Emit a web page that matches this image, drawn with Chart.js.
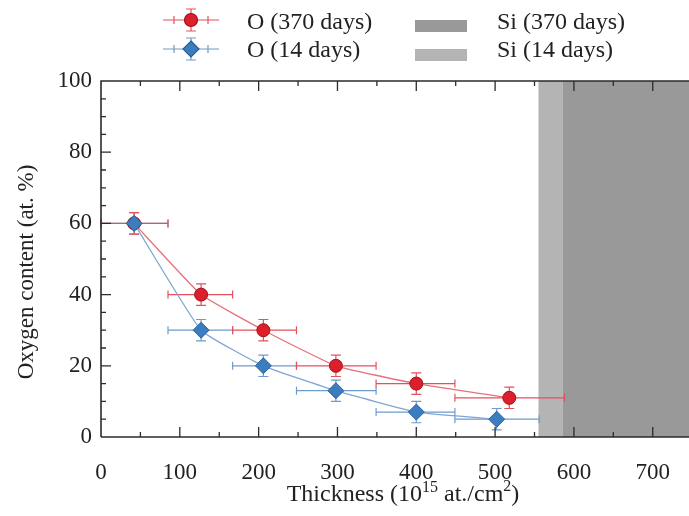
<!DOCTYPE html>
<html>
<head>
<meta charset="utf-8">
<script src="https://cdn.jsdelivr.net/npm/chart.js@4.4.1/dist/chart.umd.min.js"></script>
<style>
  html, body { margin: 0; padding: 0; background: #fff; }
  #wrap { width: 689px; height: 516px; }
</style>
</head>
<body>
<div id="wrap"><canvas id="oxChart"></canvas></div>
<script>
// O content vs thickness after 14 and 370 days
var o370X = [42, 127, 206, 298, 400, 518];
var o370Y = [60, 40, 30, 20, 15, 11];
var o370XMin = [0, 85, 167, 248, 349, 449];
var o370XMax = [85, 167, 248, 349, 449, 588];
var o370YErr = [3, 3, 3, 3, 3, 3];

var o14X = [42, 127, 206, 298, 400, 502];
var o14Y = [60, 30, 20, 13, 7, 5];
var o14XMin = [0, 85, 167, 248, 349, 449];
var o14XMax = [85, 167, 248, 349, 449, 556];
var o14YErr = [3, 3, 3, 3, 3, 3];

// where the Si substrate begins
var si14Start = 555;
var si370Start = 586;

var xTicks = [0, 100, 200, 300, 400, 500, 600, 700];
var yTicks = [0, 20, 40, 60, 80, 100];

var SERIF = '"Liberation Serif", "Times New Roman", serif';
var RED = '#dd1f2b', RED_LINE = '#e8707a', RED_BAR = '#e2525e';
var BLUE = '#3b7dbf', BLUE_LINE = '#7ea7d3', BLUE_BAR = '#6e9bcc';
var SI_DARK = '#999999', SI_LIGHT = '#b4b4b4';

function toPoints(xs, ys) {
  return xs.map(function (x, i) { return { x: x, y: ys[i] }; });
}

var errSets = [
  { xMin: o14XMin, xMax: o14XMax, yErr: o14YErr, color: BLUE_BAR },
  { xMin: o370XMin, xMax: o370XMax, yErr: o370YErr, color: RED_BAR }
];

var bandsPlugin = {
  id: 'siBands',
  beforeDatasetsDraw: function (chart) {
    var ctx = chart.ctx, a = chart.chartArea, xs = chart.scales.x;
    var x1 = xs.getPixelForValue(si14Start), x2 = xs.getPixelForValue(si370Start);
    ctx.save();
    ctx.fillStyle = SI_LIGHT;
    ctx.fillRect(x1, a.top, x2 - x1, a.bottom - a.top);
    ctx.fillStyle = SI_DARK;
    ctx.fillRect(x2, a.top, a.right - x2, a.bottom - a.top);
    ctx.restore();
  }
};

var errorBarPlugin = {
  id: 'errorBars',
  beforeDatasetsDraw: function (chart) {
    var ctx = chart.ctx, xs = chart.scales.x, ys = chart.scales.y;
    ctx.save();
    ctx.lineWidth = 1.2;
    chart.data.datasets.forEach(function (ds, di) {
      var e = errSets[di];
      ctx.strokeStyle = e.color;
      ds.data.forEach(function (p, i) {
        var px = xs.getPixelForValue(p.x), py = ys.getPixelForValue(p.y);
        var l = xs.getPixelForValue(e.xMin[i]), r = xs.getPixelForValue(e.xMax[i]);
        var t = ys.getPixelForValue(p.y + e.yErr[i]), b = ys.getPixelForValue(p.y - e.yErr[i]);
        ctx.beginPath();
        ctx.moveTo(l, py); ctx.lineTo(r, py);
        ctx.moveTo(l, py - 4); ctx.lineTo(l, py + 4);
        ctx.moveTo(r, py - 4); ctx.lineTo(r, py + 4);
        ctx.moveTo(px, t); ctx.lineTo(px, b);
        ctx.moveTo(px - 5, t); ctx.lineTo(px + 5, t);
        ctx.moveTo(px - 5, b); ctx.lineTo(px + 5, b);
        ctx.stroke();
      });
    });
    ctx.restore();
  }
};

var framePlugin = {
  id: 'frame',
  afterDraw: function (chart) {
    var ctx = chart.ctx, a = chart.chartArea, xs = chart.scales.x, ys = chart.scales.y;
    ctx.save();
    ctx.strokeStyle = '#2b2b2b';
    ctx.lineWidth = 1.6;
    ctx.beginPath();
    ctx.moveTo(a.left, a.bottom); ctx.lineTo(a.left, a.top); ctx.lineTo(a.right, a.top);
    ctx.moveTo(a.left, a.bottom); ctx.lineTo(a.right, a.bottom);
    ctx.stroke();
    // inward ticks, minor every 50 on x and every 5 on y
    ctx.lineWidth = 1.3;
    ctx.beginPath();
    for (var v = 50; v <= 750; v += 50) {
      var px = xs.getPixelForValue(v);
      if (px > a.right) break;
      var len = v % 100 === 0 ? 10 : 5;
      ctx.moveTo(px, a.bottom); ctx.lineTo(px, a.bottom - len);
      ctx.moveTo(px, a.top); ctx.lineTo(px, a.top + len);
    }
    for (var w = 5; w < 100; w += 5) {
      var py = ys.getPixelForValue(w);
      var ln = w % 20 === 0 ? 10 : 5;
      ctx.moveTo(a.left, py); ctx.lineTo(a.left + ln, py);
    }
    ctx.stroke();

    // axis titles
    ctx.fillStyle = '#222';
    ctx.textBaseline = 'alphabetic';
    var big = '24px ' + SERIF, small = '16px ' + SERIF;
    var parts = [['Thickness (10', big, 0], ['15', small, -9], [' at./cm', big, 0], ['2', small, -10], [')', big, 0]];
    var total = 0;
    parts.forEach(function (p) { ctx.font = p[1]; total += ctx.measureText(p[0]).width; });
    var cx = 403 - total / 2, base = 501;
    parts.forEach(function (p) {
      ctx.font = p[1];
      ctx.fillText(p[0], cx, base + p[2]);
      cx += ctx.measureText(p[0]).width;
    });
    ctx.save();
    ctx.translate(33, 272);
    ctx.rotate(-Math.PI / 2);
    ctx.font = '23px ' + SERIF;
    ctx.textAlign = 'center';
    ctx.fillText('Oxygen content (at. %)', 0, 0);
    ctx.restore();

    // legend
    function marker(x, y, color, bar, diamond) {
      ctx.strokeStyle = bar;
      ctx.lineWidth = 1.2;
      ctx.beginPath();
      ctx.moveTo(x - 28, y); ctx.lineTo(x + 28, y);
      ctx.moveTo(x - 17, y - 4); ctx.lineTo(x - 17, y + 4);
      ctx.moveTo(x + 17, y - 4); ctx.lineTo(x + 17, y + 4);
      ctx.moveTo(x, y - 11); ctx.lineTo(x, y + 11);
      ctx.moveTo(x - 5, y - 11); ctx.lineTo(x + 5, y - 11);
      ctx.moveTo(x - 5, y + 11); ctx.lineTo(x + 5, y + 11);
      ctx.stroke();
      ctx.fillStyle = color;
      ctx.strokeStyle = diamond ? '#2a5f96' : '#9e1219';
      ctx.beginPath();
      if (diamond) {
        ctx.moveTo(x, y - 8); ctx.lineTo(x + 8, y); ctx.lineTo(x, y + 8); ctx.lineTo(x - 8, y); ctx.closePath();
      } else {
        ctx.arc(x, y, 6.5, 0, Math.PI * 2);
      }
      ctx.fill(); ctx.stroke();
    }
    marker(191, 20, RED, RED_BAR, false);
    marker(191, 49, BLUE, BLUE_BAR, true);
    ctx.fillStyle = SI_DARK;
    ctx.fillRect(415, 20, 52, 12);
    ctx.fillStyle = SI_LIGHT;
    ctx.fillRect(415, 49, 52, 12);
    ctx.fillStyle = '#222';
    ctx.font = big;
    ctx.textBaseline = 'middle';
    ctx.fillText('O (370 days)', 247, 23);
    ctx.fillText('O (14 days)', 247, 51);
    ctx.fillText('Si (370 days)', 497, 23);
    ctx.fillText('Si (14 days)', 497, 51);
    ctx.restore();
  }
};

new Chart(document.getElementById('oxChart'), {
  type: 'line',
  data: {
    datasets: [
      {
        label: 'O (14 days)',
        data: toPoints(o14X, o14Y),
        borderColor: BLUE_LINE,
        borderWidth: 1.3,
        backgroundColor: BLUE,
        pointStyle: 'rectRot',
        pointRadius: 8,
        pointBorderColor: '#2a5f96',
        pointBorderWidth: 1,
        tension: 0.12
      },
      {
        label: 'O (370 days)',
        data: toPoints(o370X, o370Y),
        borderColor: RED_LINE,
        borderWidth: 1.3,
        backgroundColor: RED,
        pointStyle: 'circle',
        pointRadius: 6.5,
        pointBorderColor: '#9e1219',
        pointBorderWidth: 1,
        tension: 0.12
      }
    ]
  },
  options: {
    responsive: true,
    maintainAspectRatio: false,
    animation: false,
    layout: { autoPadding: false, padding: { top: 81, left: 0, right: 0, bottom: 0 } },
    plugins: { legend: { display: false }, tooltip: { enabled: false } },
    scales: {
      x: {
        type: 'linear',
        min: 0,
        max: 746,
        afterBuildTicks: function (s) { s.ticks = xTicks.map(function (v) { return { value: v }; }); },
        afterFit: function (s) { s.height = 79; s.paddingLeft = 0; s.paddingRight = 0; },
        grid: { display: false, drawTicks: false },
        border: { display: false },
        ticks: { color: '#222', font: { family: SERIF, size: 23 }, padding: 22, maxRotation: 0 }
      },
      y: {
        min: 0,
        max: 100,
        afterBuildTicks: function (s) { s.ticks = yTicks.map(function (v) { return { value: v }; }); },
        afterFit: function (s) { s.width = 101; s.paddingTop = 0; s.paddingBottom = 0; },
        grid: { display: false, drawTicks: false },
        border: { display: false },
        ticks: { color: '#222', font: { family: SERIF, size: 23 }, padding: 9 }
      }
    }
  },
  plugins: [bandsPlugin, errorBarPlugin, framePlugin]
});
</script>
</body>
</html>
